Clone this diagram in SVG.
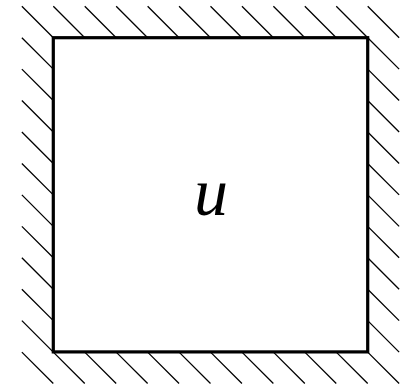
<svg xmlns="http://www.w3.org/2000/svg" width="410" height="385" viewBox="0 0 410 385">
<style>
.hatch{fill:none;stroke:#000;stroke-width:1.3}
.box{fill:#fff;stroke:#000;stroke-width:3.2}
.lbl{font-family:"Liberation Serif","DejaVu Serif",serif;font-style:italic;font-size:68px;fill:#000}
</style>
<rect width="410" height="385" fill="#fff"/>
<g id="hatching">
<path class="hatch" d="
M21.86 6.26l31.44 31.44 M21.86 37.70l31.44 31.44 M21.86 69.14l31.44 31.44 M21.86 100.58l31.44 31.44 M21.86 132.02l31.44 31.44 M21.86 163.46l31.44 31.44 M21.86 194.90l31.44 31.44 M21.86 226.34l31.44 31.44 M21.86 257.78l31.44 31.44 M21.86 289.22l31.44 31.44 M21.86 320.66l31.44 31.44 M21.86 352.10l31.44 31.44
M367.7 6.26l31.44 31.44 M367.7 37.70l31.44 31.44 M367.7 69.14l31.44 31.44 M367.7 100.58l31.44 31.44 M367.7 132.02l31.44 31.44 M367.7 163.46l31.44 31.44 M367.7 194.90l31.44 31.44 M367.7 226.34l31.44 31.44 M367.7 257.78l31.44 31.44 M367.7 289.22l31.44 31.44 M367.7 320.66l31.44 31.44 M367.7 352.10l31.44 31.44
M53.30 6.26l31.44 31.44 M84.74 6.26l31.44 31.44 M116.18 6.26l31.44 31.44 M147.62 6.26l31.44 31.44 M179.06 6.26l31.44 31.44 M210.50 6.26l31.44 31.44 M241.94 6.26l31.44 31.44 M273.38 6.26l31.44 31.44 M304.82 6.26l31.44 31.44 M336.26 6.26l31.44 31.44
M53.30 352.10l31.44 31.44 M84.74 352.10l31.44 31.44 M116.18 352.10l31.44 31.44 M147.62 352.10l31.44 31.44 M179.06 352.10l31.44 31.44 M210.50 352.10l31.44 31.44 M241.94 352.10l31.44 31.44 M273.38 352.10l31.44 31.44 M304.82 352.10l31.44 31.44 M336.26 352.10l31.44 31.44"/>
</g>
<g id="domain">
<rect class="box" x="53.3" y="37.7" width="314.4" height="314.2"/>
<text class="lbl" x="211" y="215" text-anchor="middle">u</text>
</g>
</svg>
